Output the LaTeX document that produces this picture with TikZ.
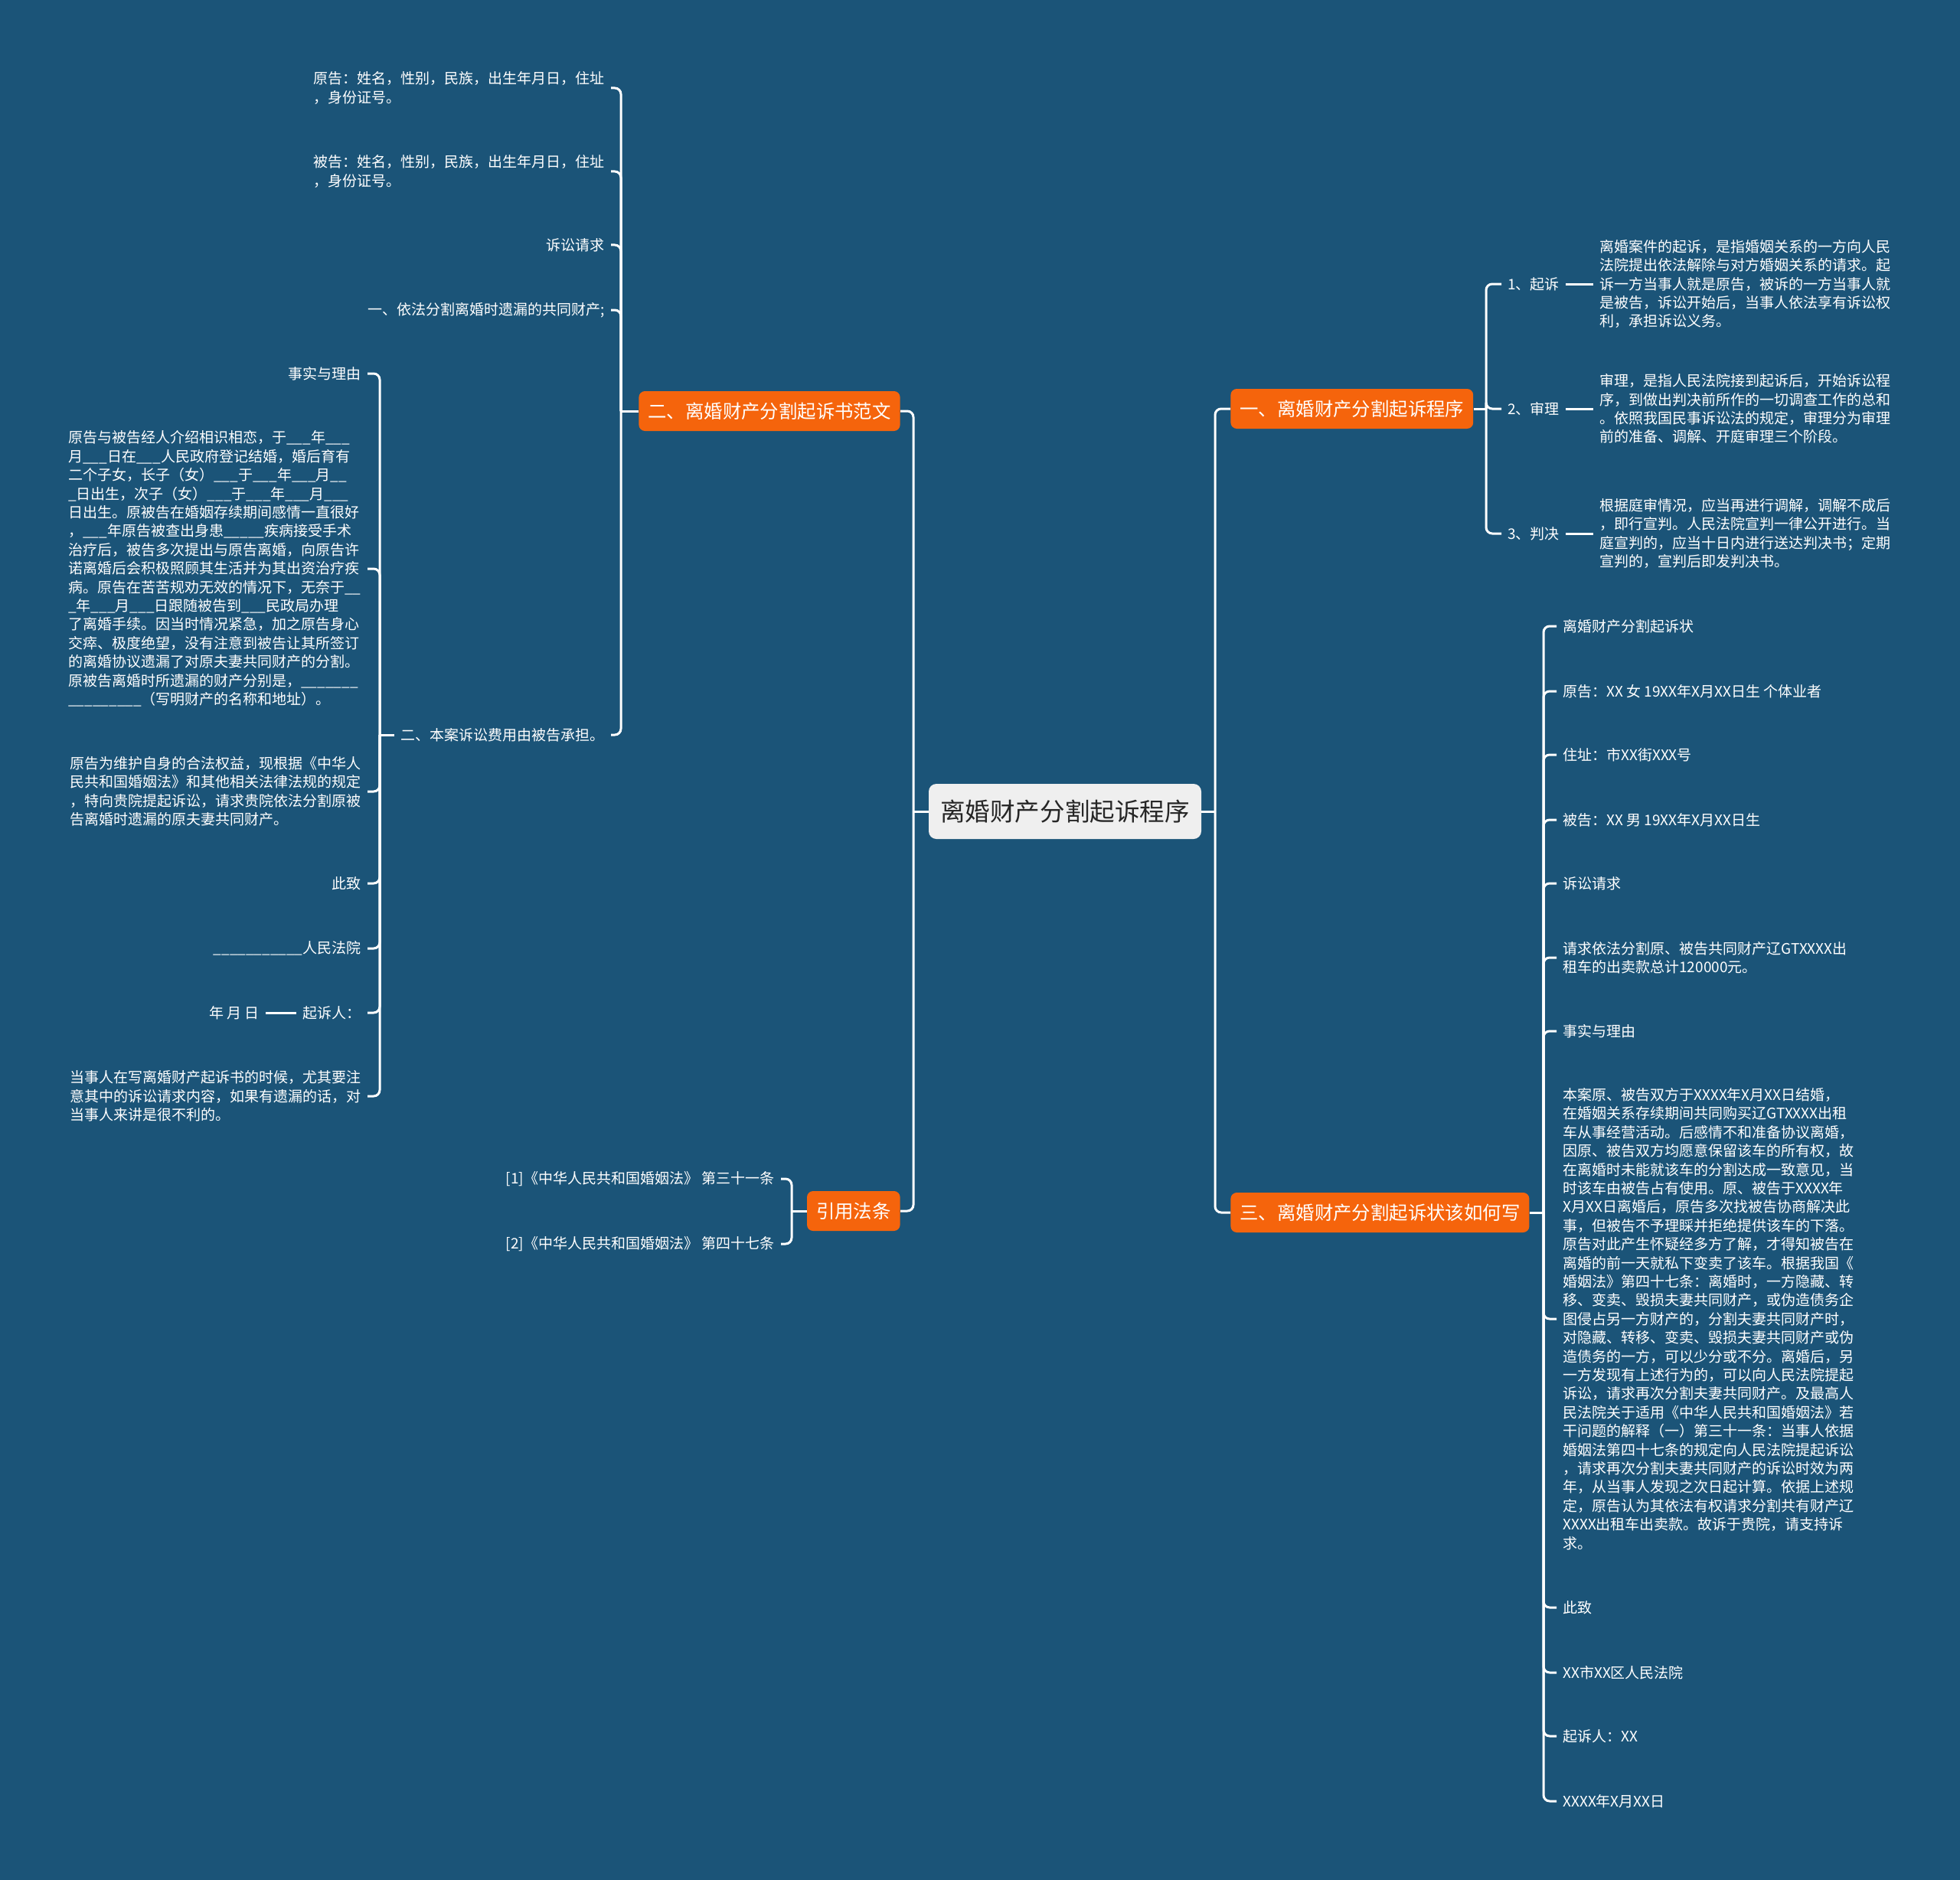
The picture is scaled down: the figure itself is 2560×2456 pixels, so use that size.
\documentclass[tikz,border=0pt]{standalone}
\usepackage{fontspec}
\setmainfont{Noto Sans CJK SC}
\usepackage{tikz}
\usetikzlibrary{positioning}
\definecolor{MapBg}{HTML}{1B5478}
\definecolor{MapOrange}{HTML}{F5640C}
\definecolor{MapRoot}{HTML}{EFEFEF}
\definecolor{MapInk}{HTML}{262626}
\tikzset{
  rootbox/.style={rounded corners=5pt, fill=MapRoot, text=MapInk, font=\fontsize{16.3}{20}\selectfont, minimum width=178pt, minimum height=36pt, inner sep=0pt},
  topicbox/.style={rounded corners=4pt, fill=MapOrange, text=white, font=\fontsize{12.2}{15}\selectfont, minimum height=26pt, inner xsep=6pt, inner ysep=0pt},
  leaf/.style={text=white, font=\fontsize{9.5}{12.2}\selectfont, align=left, inner xsep=4pt, inner ysep=2pt},
  link/.style={draw=white, line width=1.5pt},
  hook/.style={link, rounded corners=4pt}
}

\begin{document}
\begin{tikzpicture}[x=0.5pt, y=-0.5pt, node distance=18pt]
\fill[MapBg] (0,0) rectangle (2560,2456);
\useasboundingbox (0,0) rectangle (2560,2456);

\node[rootbox] (root) at (1391,1060) {离婚财产分割起诉程序};
\coordinate (jl) at (1193,1060);
\coordinate (jr) at (1587,1060);

\node[topicbox, anchor=east] (n2) at (1176,537) {二、离婚财产分割起诉书范文};
\node[topicbox, anchor=east] (law) at (1176,1582) {引用法条};
\node[topicbox, anchor=west] (n1) at (1607,534) {一、离婚财产分割起诉程序};
\node[topicbox, anchor=west] (n3) at (1607,1584) {三、离婚财产分割起诉状该如何写};

\draw[link] (root.west) -- (jl);
\draw[link] (root.east) -- (jr);
\foreach \t in {n2,law} \draw[hook] (jl) |- (\t.east);
\foreach \t in {n1,n3} \draw[hook] (jr) |- (\t.west);

% 一、起诉程序
\coordinate (j1) at (1941,534);
\node[leaf, anchor=west] (c11) at (1961,371) {1、起诉};
\node[leaf, anchor=west] (c12) at (1961,534) {2、审理};
\node[leaf, anchor=west] (c13) at (1961,697) {3、判决};
\node[leaf, right=of c11] (d11) {离婚案件的起诉，是指婚姻关系的一方向人民\\法院提出依法解除与对方婚姻关系的请求。起\\诉一方当事人就是原告，被诉的一方当事人就\\是被告，诉讼开始后，当事人依法享有诉讼权\\利，承担诉讼义务。};
\node[leaf, right=of c12] (d12) {审理，是指人民法院接到起诉后，开始诉讼程\\序，到做出判决前所作的一切调查工作的总和\\。依照我国民事诉讼法的规定，审理分为审理\\前的准备、调解、开庭审理三个阶段。};
\node[leaf, right=of c13] (d13) {根据庭审情况，应当再进行调解，调解不成后\\，即行宣判。人民法院宣判一律公开进行。当\\庭宣判的，应当十日内进行送达判决书；定期\\宣判的，宣判后即发判决书。};
\draw[link] (n1.east) -- (j1);
\foreach \c in {c11,c12,c13} \draw[hook] (j1) |- (\c.west);
\foreach \c/\d in {c11/d11,c12/d12,c13/d13} \draw[link] (\c) -- (\d);

% 三、起诉状
\coordinate (j3) at (2016,1584);
\node[leaf, anchor=west] (t1) at (2033,818) {离婚财产分割起诉状};
\node[leaf, anchor=west] (t2) at (2033,903) {原告：XX 女 19XX年X月XX日生 个体业者};
\node[leaf, anchor=west] (t3) at (2033,986) {住址：市XX街XXX号};
\node[leaf, anchor=west] (t4) at (2033,1071) {被告：XX 男 19XX年X月XX日生};
\node[leaf, anchor=west] (t5) at (2033,1154) {诉讼请求};
\node[leaf, anchor=west] (t6) at (2033,1251) {请求依法分割原、被告共同财产辽GTXXXX出\\租车的出卖款总计120000元。};
\node[leaf, anchor=west] (t7) at (2033,1347) {事实与理由};
\node[leaf, anchor=west] (t8) at (2033,1723) {本案原、被告双方于XXXX年X月XX日结婚，\\在婚姻关系存续期间共同购买辽GTXXXX出租\\车从事经营活动。后感情不和准备协议离婚，\\因原、被告双方均愿意保留该车的所有权，故\\在离婚时未能就该车的分割达成一致意见，当\\时该车由被告占有使用。原、被告于XXXX年\\X月XX日离婚后，原告多次找被告协商解决此\\事，但被告不予理睬并拒绝提供该车的下落。\\原告对此产生怀疑经多方了解，才得知被告在\\离婚的前一天就私下变卖了该车。根据我国《\\婚姻法》第四十七条：离婚时，一方隐藏、转\\移、变卖、毁损夫妻共同财产，或伪造债务企\\图侵占另一方财产的，分割夫妻共同财产时，\\对隐藏、转移、变卖、毁损夫妻共同财产或伪\\造债务的一方，可以少分或不分。离婚后，另\\一方发现有上述行为的，可以向人民法院提起\\诉讼，请求再次分割夫妻共同财产。及最高人\\民法院关于适用《中华人民共和国婚姻法》若\\干问题的解释（一）第三十一条：当事人依据\\婚姻法第四十七条的规定向人民法院提起诉讼\\，请求再次分割夫妻共同财产的诉讼时效为两\\年，从当事人发现之次日起计算。依据上述规\\定，原告认为其依法有权请求分割共有财产辽\\XXXX出租车出卖款。故诉于贵院，请支持诉\\求。};
\node[leaf, anchor=west] (t9) at (2033,2100) {此致};
\node[leaf, anchor=west] (t10) at (2033,2185) {XX市XX区人民法院};
\node[leaf, anchor=west] (t11) at (2033,2268) {起诉人：XX};
\node[leaf, anchor=west] (t12) at (2033,2353) {XXXX年X月XX日};
\draw[link] (n3.east) -- (j3);
\foreach \c in {t1,t2,t3,t4,t5,t6,t7,t8,t9,t10,t11,t12} \draw[hook] (j3) |- (\c.west);

% 二、起诉书范文
\coordinate (j2) at (811,537);
\node[leaf, anchor=east] (a1) at (798,115) {原告：姓名，性别，民族，出生年月日，住址\\，身份证号。};
\node[leaf, anchor=east] (a2) at (798,224) {被告：姓名，性别，民族，出生年月日，住址\\，身份证号。};
\node[leaf, anchor=east] (a3) at (798,320) {诉讼请求};
\node[leaf, anchor=east] (a4) at (798,405) {一、依法分割离婚时遗漏的共同财产;};
\node[leaf, anchor=east] (a5) at (798,960) {二、本案诉讼费用由被告承担。};
\draw[link] (n2.west) -- (j2);
\foreach \c in {a1,a2,a3,a4,a5} \draw[hook] (j2) |- (\c.east);

\coordinate (j5) at (496,960);
\node[leaf, anchor=east] (b1) at (480,488) {事实与理由};
\node[leaf, anchor=east] (b2) at (480,743) {原告与被告经人介绍相识相恋，于\_\_\_年\_\_\_\\月\_\_\_日在\_\_\_人民政府登记结婚，婚后育有\\二个子女，长子（女）\_\_\_于\_\_\_年\_\_\_月\_\_\\\_日出生，次子（女）\_\_\_于\_\_\_年\_\_\_月\_\_\_\\日出生。原被告在婚姻存续期间感情一直很好\\，\_\_\_年原告被查出身患\_\_\_\_\_疾病接受手术\\治疗后，被告多次提出与原告离婚，向原告许\\诺离婚后会积极照顾其生活并为其出资治疗疾\\病。原告在苦苦规劝无效的情况下，无奈于\_\_\\\_年\_\_\_月\_\_\_日跟随被告到\_\_\_民政局办理\\了离婚手续。因当时情况紧急，加之原告身心\\交瘁、极度绝望，没有注意到被告让其所签订\\的离婚协议遗漏了对原夫妻共同财产的分割。\\原被告离婚时所遗漏的财产分别是，\_\_\_\_\_\_\_\\\_\_\_\_\_\_\_\_\_（写明财产的名称和地址）。};
\node[leaf, anchor=east] (b3) at (480,1034) {原告为维护自身的合法权益，现根据《中华人\\民共和国婚姻法》和其他相关法律法规的规定\\，特向贵院提起诉讼，请求贵院依法分割原被\\告离婚时遗漏的原夫妻共同财产。};
\node[leaf, anchor=east] (b4) at (480,1154) {此致};
\node[leaf, anchor=east] (b5) at (480,1239) {\_\_\_\_\_\_\_\_\_\_\_人民法院};
\node[leaf, anchor=east] (b6) at (480,1323) {起诉人：};
\node[leaf, left=20pt of b6] (b6a) {年 月 日};
\node[leaf, anchor=east] (b7) at (480,1432) {当事人在写离婚财产起诉书的时候，尤其要注\\意其中的诉讼请求内容，如果有遗漏的话，对\\当事人来讲是很不利的。};
\draw[link] (a5.west) -- (j5);
\foreach \c in {b1,b2,b3,b4,b5,b6,b7} \draw[hook] (j5) |- (\c.east);
\draw[link] (b6a) -- (b6);

% 引用法条
\coordinate (jw) at (1034,1582);
\node[leaf, anchor=east] (l1) at (1020,1540) {[1]《中华人民共和国婚姻法》 第三十一条};
\node[leaf, anchor=east] (l2) at (1020,1625) {[2]《中华人民共和国婚姻法》 第四十七条};
\draw[link] (law.west) -- (jw);
\foreach \c in {l1,l2} \draw[hook] (jw) |- (\c.east);
\end{tikzpicture}
\end{document}
